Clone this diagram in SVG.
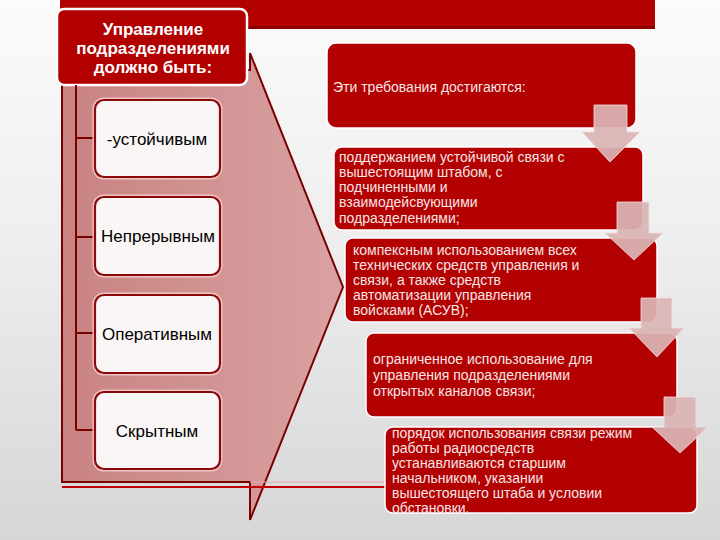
<svg xmlns="http://www.w3.org/2000/svg" width="720" height="540" viewBox="0 0 720 540">
  <defs>
    <linearGradient id="bg" x1="0" y1="0" x2="0" y2="1">
      <stop offset="0" stop-color="#fbfbfb"/>
      <stop offset="0.45" stop-color="#eeeeee"/>
      <stop offset="1" stop-color="#d6d6d6"/>
    </linearGradient>
    <linearGradient id="pink" x1="0" y1="0" x2="1" y2="0">
      <stop offset="0" stop-color="#c98282"/>
      <stop offset="1" stop-color="#d9a2a2"/>
    </linearGradient>
    <clipPath id="clipE">
      <rect x="385" y="427" width="312" height="86" rx="8"/>
    </clipPath>
    <style>
      text { font-family: 'Liberation Sans', Arial, sans-serif; }
      .hdr { font-size: 17px; font-weight: bold; fill: #ffffff; text-anchor: middle; }
      .lbl { font-size: 17px; fill: #000000; text-anchor: middle; }
      .rt { font-size: 14px; fill: #f6e6e6; }
      .wbox { fill: #fbf6f6; stroke: #8a0a0a; stroke-width: 2.2; }
      .halo { fill: none; stroke: #f2c4c4; stroke-width: 5; }
      .rbox { fill: #b30000; stroke: #ffffff; stroke-width: 1.5; }
      .tree { fill: none; stroke: #7a0000; stroke-width: 2; }
      .arr { fill: #dab5b5; fill-opacity: 0.93; stroke: #f3dede; stroke-width: 1; stroke-opacity: 0.8; }
    </style>
  </defs>

  <rect x="0" y="0" width="720" height="540" fill="url(#bg)"/>

  <!-- top banner -->
  <g id="banner">
    <rect x="60" y="0" width="595" height="29" fill="#b30000"/>
    <rect x="60" y="26" width="595" height="3" fill="#8e0000"/>
  </g>

  <!-- left panel -->
  <g id="panel">
    <polygon points="62,70 250,70 250,53 343,287 250,520 250,482 62,482" fill="url(#pink)" stroke="#7a0000" stroke-width="2" stroke-linejoin="miter"/>
    <line x1="62" y1="487" x2="385" y2="487" stroke="#c00000" stroke-width="2"/>
    <line x1="250" y1="482" x2="385" y2="482" stroke="#e8a8a8" stroke-width="1"/>
  </g>

  <g id="header">
    <rect x="57" y="9" width="190" height="76" rx="7" fill="#b20000" stroke="#ffffff" stroke-width="2.5"/>
    <text class="hdr" x="153" y="35">Управление</text>
    <text class="hdr" x="153" y="54">подразделениями</text>
    <text class="hdr" x="153" y="73">должно быть:</text>
  </g>

  <!-- connectors -->
  <g id="connectors">
    <path class="tree" d="M76,85 V430 M76,138 H95 M76,237 H95 M76,333 H95 M76,430 H95"/>
  </g>

  <g id="box1">
    <rect class="halo" x="95" y="100" width="125" height="77" rx="9"/>
    <rect class="wbox" x="95" y="100" width="125" height="77" rx="9"/>
    <text class="lbl" x="157" y="145">-устойчивым</text>
  </g>
  <g id="box2">
    <rect class="halo" x="95" y="197" width="125" height="78" rx="9"/>
    <rect class="wbox" x="95" y="197" width="125" height="78" rx="9"/>
    <text class="lbl" x="158" y="242">Непрерывным</text>
  </g>
  <g id="box3">
    <rect class="halo" x="95" y="295" width="125" height="78" rx="9"/>
    <rect class="wbox" x="95" y="295" width="125" height="78" rx="9"/>
    <text class="lbl" x="157" y="340">Оперативным</text>
  </g>
  <g id="box4">
    <rect class="halo" x="95" y="392" width="125" height="77" rx="9"/>
    <rect class="wbox" x="95" y="392" width="125" height="77" rx="9"/>
    <text class="lbl" x="157" y="437">Скрытным</text>
  </g>

  <!-- right column -->
  <g id="boxA">
    <rect class="rbox" x="327" y="43" width="309" height="85" rx="9"/>
    <text class="rt" x="333" y="92">Эти требования достигаются:</text>
  </g>
  <g id="boxB">
    <rect class="rbox" x="334" y="147" width="309" height="83" rx="8"/>
    <text class="rt" x="339" y="162">поддержанием устойчивой связи с</text>
    <text class="rt" x="339" y="177">вышестоящим штабом, с</text>
    <text class="rt" x="339" y="192">подчиненными и</text>
    <text class="rt" x="339" y="207">взаимодейсвующими</text>
    <text class="rt" x="339" y="223">подразделениями;</text>
  </g>
  <g id="boxC">
    <rect class="rbox" x="345" y="238" width="312" height="84" rx="8"/>
    <text class="rt" x="353" y="255">компексным использованием всех</text>
    <text class="rt" x="353" y="270">технических средств управления и</text>
    <text class="rt" x="353" y="285">связи, а также средств</text>
    <text class="rt" x="353" y="300">автоматизации управления</text>
    <text class="rt" x="353" y="315">войсками (АСУВ);</text>
  </g>
  <g id="boxD">
    <rect class="rbox" x="366" y="333" width="311" height="84" rx="8"/>
    <text class="rt" x="373" y="364">ограниченное использование для</text>
    <text class="rt" x="373" y="380">управления подразделениями</text>
    <text class="rt" x="373" y="396">открытых каналов связи;</text>
  </g>
  <g id="boxE">
    <rect class="rbox" x="385" y="427" width="312" height="86" rx="8"/>
    <g clip-path="url(#clipE)">
      <text class="rt" x="392" y="438">порядок использования связи режим</text>
      <text class="rt" x="392" y="453">работы радиосредств</text>
      <text class="rt" x="392" y="468">устанавливаются старшим</text>
      <text class="rt" x="392" y="483">начальником, указании</text>
      <text class="rt" x="392" y="498">вышестоящего штаба и условии</text>
      <text class="rt" x="392" y="513">обстановки.</text>
    </g>
  </g>

  <!-- down arrows -->
  <g id="arrows">
    <polygon class="arr" points="594,105 627,105 627,132 640,132 610,162 582,132 594,132"/>
    <polygon class="arr" points="617,202 649,202 649,233 663,233 634,260 605,233 617,233"/>
    <polygon class="arr" points="641,298 672,298 672,328 684,328 657,357 629,328 641,328"/>
    <polygon class="arr" points="664,397 696,397 696,427 708,427 680,453 652,427 664,427"/>
  </g>
</svg>
